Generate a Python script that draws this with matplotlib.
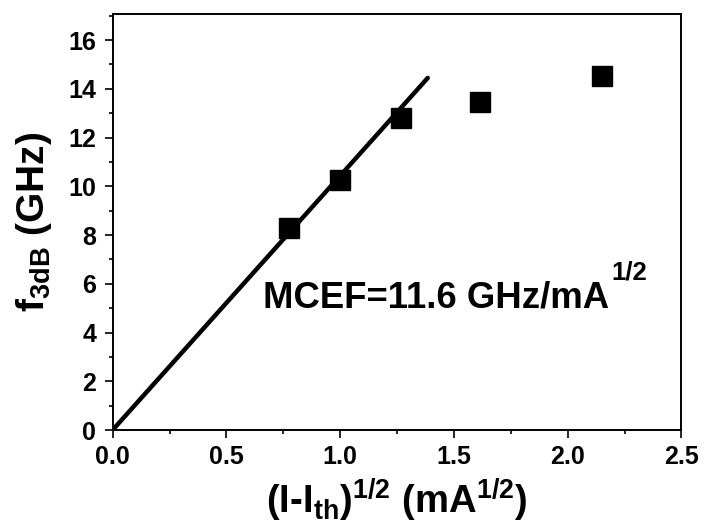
import matplotlib
matplotlib.use("Agg")
import matplotlib.pyplot as plt
from matplotlib.ticker import MultipleLocator, FormatStrFormatter

plt.rcParams['font.family'] = ['Liberation Sans', 'DejaVu Sans']
plt.rcParams['font.weight'] = 'bold'
plt.rcParams['mathtext.fontset'] = 'custom'
plt.rcParams['mathtext.rm'] = 'Liberation Sans:bold'
plt.rcParams['mathtext.bf'] = 'Liberation Sans:bold'
plt.rcParams['mathtext.it'] = 'Liberation Sans:bold'
plt.rcParams['mathtext.default'] = 'bf'

# measured modulation bandwidth vs square root of current above threshold
sqrt_current = [0.776, 1.0, 1.268, 1.616, 2.15]
f3db = [8.27, 10.24, 12.79, 13.44, 14.54]

# linear fit through the origin over the low-current range
fit_x = [0.0, 1.385]
fit_slope = 10.43
mcef_main = "MCEF=11.6 GHz/mA"
mcef_exp = "1/2"

fig = plt.figure(figsize=(7.04, 5.26), dpi=100)
ax = fig.add_axes([0.160, 0.1825, 0.808, 0.7915])

ax.plot(fit_x, [fit_slope * x for x in fit_x], color='black', lw=3.2,
        solid_capstyle='round', zorder=2)
ax.plot(sqrt_current, f3db, linestyle='none', marker='s', ms=14.5,
        color='black', zorder=3)

ax.set_xlim(0, 2.5)
ax.set_ylim(0, 17.08)
ax.xaxis.set_major_locator(MultipleLocator(0.5))
ax.xaxis.set_minor_locator(MultipleLocator(0.25))
ax.yaxis.set_major_locator(MultipleLocator(2))
ax.yaxis.set_minor_locator(MultipleLocator(1))
ax.xaxis.set_major_formatter(FormatStrFormatter('%.1f'))

ax.tick_params(axis='both', which='major', direction='out', length=5.8,
               width=1.2, labelsize=18)
ax.tick_params(axis='x', which='major', pad=5)
ax.tick_params(axis='y', which='major', pad=6)
ax.tick_params(axis='both', which='minor', direction='out', length=2.9,
               width=1.2)
for lab in ax.get_xticklabels() + ax.get_yticklabels():
    lab.set_fontweight('bold')
for sp in ax.spines.values():
    sp.set_linewidth(1.4)

ax.set_xlabel(r"(I-I$_{th}$)$^{1/2}$ (mA$^{1/2}$)", fontsize=27.5,
              fontweight='bold', labelpad=6)
ax.set_ylabel(r"f$_{3dB}$ (GHz)", fontsize=28, fontweight='bold',
              labelpad=10)

main = ax.text(0.66, 5.03, mcef_main, fontsize=26.3, fontweight='bold',
               va='baseline', ha='left')
ax.annotate(mcef_exp, xy=(1, 1), xycoords=main, xytext=(1.5, 1.0),
            textcoords='offset points', fontsize=18.5, fontweight='bold',
            va='baseline', ha='left')

fig.savefig("out.png", dpi=100)
